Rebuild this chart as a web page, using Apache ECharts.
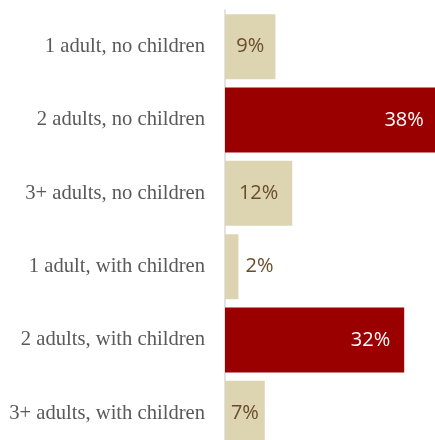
<!DOCTYPE html>
<html>
<head>
<meta charset="utf-8">
<script src="https://cdn.jsdelivr.net/npm/echarts@6/dist/echarts.min.js"></script>
<style>
html,body{margin:0;padding:0;background:#fff;}
#chart{width:435px;height:440px;}
</style>
</head>
<body>
<div id="chart"></div>
<script>
const categories = [
  '1 adult, no children',
  '2 adults, no children',
  '3+ adults, no children',
  '1 adult, with children',
  '2 adults, with children',
  '3+ adults, with children'
];
const values = [9, 38, 12, 2.4, 32, 7.1];

const chart = echarts.init(document.getElementById('chart'), null, {renderer: 'canvas'});

const data = values.map(function (v) {
  const big = v >= 20;
  const tiny = v < 5;
  return {
    value: v,
    itemStyle: { color: big ? '#9b0000' : '#ddd4b1', borderWidth: 0 },
    label: {
      show: true,
      position: big ? 'insideRight' : (tiny ? 'right' : 'inside'),
      distance: big ? 14 : 7,
      color: big ? '#ffffff' : '#6b4c29',
      textBorderWidth: 0
    }
  };
});

chart.setOption({
  animation: false,
  grid: {
    left: 225, top: 10, width: 224, height: 440,
    containLabel: false, outerBoundsMode: 'none'
  },
  xAxis: {
    type: 'value', min: 0, max: 40, show: false,
    splitLine: { show: false }
  },
  yAxis: {
    type: 'category',
    data: categories,
    inverse: true,
    axisTick: { show: false },
    axisLine: { show: true, lineStyle: { color: '#d9d9d9', width: 1.5 } },
    axisLabel: {
      margin: 20,
      color: '#595959',
      fontFamily: '"Liberation Serif", serif',
      fontSize: 20.6
    }
  },
  series: [{
    type: 'bar',
    data: data,
    barCategoryGap: '11.4%',
    emphasis: { disabled: true },
    label: {
      show: true,
      fontFamily: '"Open Sans", sans-serif',
      fontSize: 20,
      formatter: function (p) { return Math.round(p.value) + '%'; }
    }
  }]
});
</script>
</body>
</html>
